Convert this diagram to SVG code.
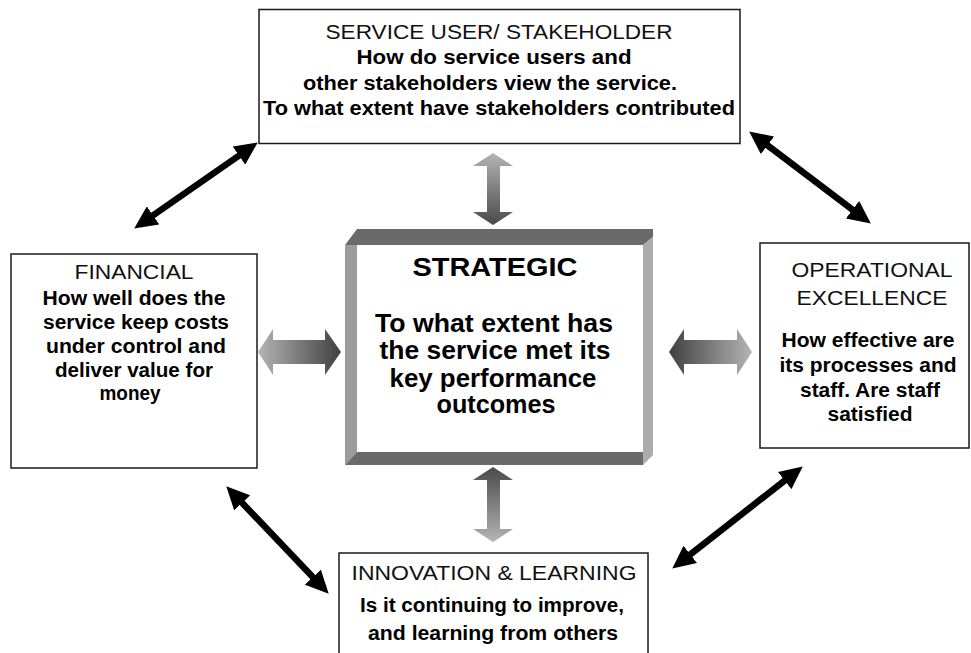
<svg xmlns="http://www.w3.org/2000/svg" width="971" height="653" viewBox="0 0 971 653">
  <defs>
    <style>
      .box { fill: #ffffff; stroke: #1a1a1a; stroke-width: 1.5; }
      .title { font-family: "Liberation Sans", Arial, sans-serif; font-size: 21px; fill: #111; text-anchor: middle; }
      .body { font-family: "Liberation Sans", Arial, sans-serif; font-size: 20px; font-weight: bold; fill: #000; text-anchor: middle; }
      .big { font-family: "Liberation Sans", Arial, sans-serif; font-size: 25px; font-weight: bold; fill: #000; text-anchor: middle; }
      .link { fill: none; stroke: #000; stroke-width: 6.5; marker-start: url(#head); marker-end: url(#head); }
    </style>
    <marker id="head" viewBox="0 0 23 22" refX="4" refY="11" markerWidth="23" markerHeight="22" markerUnits="userSpaceOnUse" orient="auto-start-reverse">
      <path d="M0,0 L23,11 L0,22 Z" fill="#000"/>
    </marker>
    <linearGradient id="gDown" x1="0" y1="0" x2="0" y2="1">
      <stop offset="0" stop-color="#b4b4b4"/>
      <stop offset="1" stop-color="#4a4a4a"/>
    </linearGradient>
    <linearGradient id="gUp" x1="0" y1="0" x2="0" y2="1">
      <stop offset="0" stop-color="#4a4a4a"/>
      <stop offset="1" stop-color="#b4b4b4"/>
    </linearGradient>
    <linearGradient id="gRight" x1="0" y1="0" x2="1" y2="0">
      <stop offset="0" stop-color="#b4b4b4"/>
      <stop offset="1" stop-color="#404040"/>
    </linearGradient>
    <linearGradient id="gLeft" x1="0" y1="0" x2="1" y2="0">
      <stop offset="0" stop-color="#404040"/>
      <stop offset="1" stop-color="#b4b4b4"/>
    </linearGradient>
  </defs>

  <rect width="971" height="653" fill="#ffffff"/>

  <!-- Connectors: black diagonal double arrows and grey block arrows -->
  <g id="connectors">
    <line class="link" x1="242.2" y1="153.3" x2="149.8" y2="217.7"/>
    <line class="link" x1="764.3" y1="142.9" x2="855.7" y2="212.1"/>
    <line class="link" x1="239.4" y1="500.0" x2="315.6" y2="580.0"/>
    <line class="link" x1="787.8" y1="478.1" x2="687.2" y2="556.9"/>

    <!-- top block arrow -->
    <polygon fill="url(#gDown)" points="493,153 513,166 500,166 500,212 513,212 493,225 473,212 487,212 487,166 473,166"/>
    <!-- bottom block arrow -->
    <polygon fill="url(#gUp)" points="493,467 513,480 500,480 500,529 513,529 493,542 473,529 487,529 487,480 473,480"/>
    <!-- left block arrow -->
    <polygon fill="url(#gRight)" points="258,352 273,329 273,340 325,340 325,329 341,352 325,375 325,364 273,364 273,375"/>
    <!-- right block arrow -->
    <polygon fill="url(#gLeft)" points="669,352 684,329 684,340 737,340 737,329 752,352 737,375 737,364 684,364 684,375"/>
  </g>

  <!-- Service user / stakeholder -->
  <g id="stakeholder">
    <rect class="box" x="259" y="9.5" width="481" height="134"/>
    <text class="title" x="499" y="39" textLength="347" lengthAdjust="spacingAndGlyphs">SERVICE USER/ STAKEHOLDER</text>
    <text class="body" x="494" y="64" textLength="275" lengthAdjust="spacingAndGlyphs">How do service users and</text>
    <text class="body" x="490" y="90" textLength="374" lengthAdjust="spacingAndGlyphs">other stakeholders view the service.</text>
    <text class="body" x="499" y="115" textLength="472" lengthAdjust="spacingAndGlyphs">To what extent have stakeholders contributed</text>
  </g>

  <!-- Financial -->
  <g id="financial">
    <rect class="box" x="11" y="254" width="246" height="214"/>
    <text class="title" x="134" y="279" textLength="119" lengthAdjust="spacingAndGlyphs">FINANCIAL</text>
    <text class="body" x="134" y="305" textLength="183" lengthAdjust="spacingAndGlyphs">How well does the</text>
    <text class="body" x="136" y="329" textLength="186" lengthAdjust="spacingAndGlyphs">service keep costs</text>
    <text class="body" x="136" y="353" textLength="180" lengthAdjust="spacingAndGlyphs">under control and</text>
    <text class="body" x="134" y="377" textLength="158" lengthAdjust="spacingAndGlyphs">deliver value for</text>
    <text class="body" x="130" y="400" textLength="61" lengthAdjust="spacingAndGlyphs">money</text>
  </g>

  <!-- Strategic (bevelled frame) -->
  <g id="strategic">
    <rect x="357" y="245" width="286" height="207" fill="#ffffff"/>
    <polygon fill="#6a6a6a" points="345,245 357,229 653,229 653,237 643,245"/>
    <polygon fill="#9c9c9c" points="345,245 357,245 357,452 345,465"/>
    <polygon fill="#acacac" points="643,245 653,237 653,455 643,465"/>
    <polygon fill="#6a6a6a" points="345,465 357,452 643,452 643,465"/>
    <text class="big" x="495" y="276" textLength="165" lengthAdjust="spacingAndGlyphs">STRATEGIC</text>
    <text class="big" x="494" y="332" textLength="238" lengthAdjust="spacingAndGlyphs">To what extent has</text>
    <text class="big" x="495" y="359" textLength="231" lengthAdjust="spacingAndGlyphs">the service met its</text>
    <text class="big" x="493" y="387" textLength="207" lengthAdjust="spacingAndGlyphs">key performance</text>
    <text class="big" x="496" y="413" textLength="119" lengthAdjust="spacingAndGlyphs">outcomes</text>
  </g>

  <!-- Operational excellence -->
  <g id="operational">
    <rect class="box" x="760" y="243" width="209" height="205"/>
    <text class="title" x="872" y="277" textLength="161" lengthAdjust="spacingAndGlyphs">OPERATIONAL</text>
    <text class="title" x="872" y="305" textLength="151" lengthAdjust="spacingAndGlyphs">EXCELLENCE</text>
    <text class="body" x="868" y="347" textLength="173" lengthAdjust="spacingAndGlyphs">How effective are</text>
    <text class="body" x="868" y="372" textLength="177" lengthAdjust="spacingAndGlyphs">its processes and</text>
    <text class="body" x="870" y="397" textLength="140" lengthAdjust="spacingAndGlyphs">staff. Are staff</text>
    <text class="body" x="870" y="421" textLength="85" lengthAdjust="spacingAndGlyphs">satisfied</text>
  </g>

  <!-- Innovation & learning -->
  <g id="innovation">
    <rect class="box" x="339" y="553" width="309" height="110"/>
    <text class="title" x="494" y="580" textLength="285" lengthAdjust="spacingAndGlyphs">INNOVATION &amp; LEARNING</text>
    <text class="body" x="492" y="612" textLength="264" lengthAdjust="spacingAndGlyphs">Is it continuing to improve,</text>
    <text class="body" x="493" y="640" textLength="250" lengthAdjust="spacingAndGlyphs">and learning from others</text>
  </g>
</svg>
